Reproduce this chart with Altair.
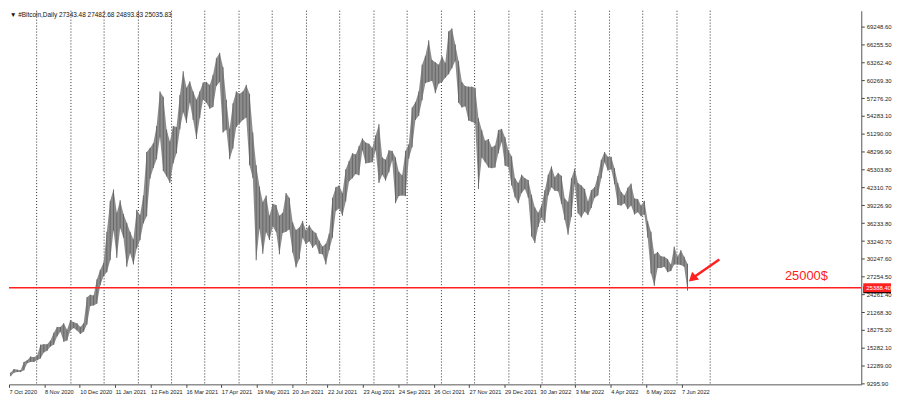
import altair as alt
import pandas as pd

# ---------------- data ----------------
# Bitcoin daily chart, price range (low / high, thousands USD) per 3-day window from 7 Oct 2020
WINDOW_START = "2020-10-07"
lows_k = [
    10.5, 11.1, 11.2, 11.2, 11.5, 12.7, 12.9, 12.9, 13.2, 13.5,
    14.5, 14.8, 15.5, 15.8, 17.2, 18.0, 16.3, 16.5, 18.2, 18.6,
    18.2, 17.6, 18.0, 19.2, 22.3, 22.4, 22.7, 25.8, 27.3, 28.0,
    30.0, 35.0, 30.4, 35.4, 33.8, 28.9, 31.2, 29.3, 32.0, 33.4,
    36.2, 37.4, 43.7, 45.5, 47.0, 50.7, 45.0, 44.1, 43.0, 46.3,
    48.0, 52.0, 54.9, 53.1, 56.5, 53.6, 50.4, 53.9, 57.0, 56.5,
    55.5, 55.8, 59.3, 60.0, 51.5, 52.0, 47.0, 48.8, 52.4, 53.0,
    53.6, 54.0, 46.0, 43.8, 30.0, 35.3, 31.1, 34.7, 33.4, 35.7,
    34.8, 31.0, 34.6, 34.8, 35.2, 31.3, 28.8, 30.2, 33.8, 32.7,
    33.2, 32.1, 32.7, 31.1, 31.0, 29.3, 31.7, 33.8, 38.3, 38.7,
    37.5, 39.9, 43.3, 43.8, 44.5, 44.3, 48.5, 46.3, 46.4, 46.5,
    48.5, 43.0, 44.4, 43.4, 44.8, 46.8, 39.6, 40.8, 40.9, 40.8,
    47.1, 49.0, 53.6, 54.3, 56.9, 59.8, 60.0, 60.2, 58.1, 59.7,
    60.0, 60.7, 61.3, 62.3, 63.5, 56.5, 55.7, 55.9, 53.5, 53.3,
    53.0, 42.0, 47.3, 46.5, 45.6, 45.5, 45.6, 48.0, 49.9, 45.9,
    45.7, 42.6, 40.6, 39.6, 41.3, 42.0, 40.5, 34.0, 32.9, 35.6,
    37.2, 36.3, 40.9, 42.3, 41.7, 41.6, 39.5, 36.8, 34.3, 37.3,
    42.8, 37.9, 37.2, 38.2, 37.6, 38.8, 40.5, 40.9, 43.8, 46.5,
    45.1, 45.3, 42.8, 39.3, 39.2, 39.6, 38.6, 39.2, 37.7, 38.1,
    37.4, 37.7, 33.8, 27.8, 25.7, 28.7, 28.7, 28.9, 28.0, 28.2,
    29.3, 29.3, 29.2, 28.9, 24.9,
]
highs_k = [
    11.1, 11.7, 11.6, 11.5, 12.9, 13.2, 13.8, 13.7, 14.0, 15.8,
    15.9, 15.9, 16.5, 17.8, 18.8, 18.8, 19.4, 18.3, 19.9, 19.6,
    19.4, 18.8, 19.4, 23.8, 24.2, 24.1, 26.8, 28.4, 29.6, 34.8,
    40.0, 41.9, 38.0, 40.1, 37.8, 36.3, 34.8, 33.5, 38.5, 37.6,
    40.9, 48.2, 48.9, 49.7, 52.6, 58.4, 57.5, 52.0, 50.0, 52.6,
    52.4, 57.8, 61.8, 59.0, 60.1, 58.4, 57.0, 58.4, 59.9, 60.0,
    59.5, 61.2, 64.0, 64.9, 62.5, 57.0, 52.1, 56.4, 58.4, 58.0,
    58.4, 59.5, 58.0, 51.5, 46.0, 42.4, 39.8, 40.9, 37.5, 39.5,
    39.3, 37.5, 38.0, 41.3, 40.5, 36.4, 35.1, 35.5, 36.6, 35.0,
    35.9, 35.0, 34.6, 33.3, 32.3, 32.8, 34.5, 40.5, 42.3, 42.6,
    41.3, 45.3, 46.7, 48.0, 47.8, 49.2, 50.5, 49.8, 49.6, 48.9,
    51.0, 52.9, 47.3, 46.9, 48.5, 48.4, 47.3, 44.9, 44.3, 48.4,
    49.5, 55.7, 56.6, 58.4, 62.9, 64.4, 67.0, 63.7, 63.3, 62.9,
    64.3, 63.2, 68.5, 69.0, 66.3, 63.5, 60.0, 59.3, 59.2, 59.2,
    59.0, 53.9, 51.9, 50.1, 50.4, 49.0, 49.3, 51.9, 52.1, 50.7,
    48.5, 47.5, 43.8, 43.0, 44.4, 43.8, 43.5, 41.0, 38.9, 38.0,
    39.2, 41.8, 44.4, 45.8, 44.0, 44.7, 44.2, 40.4, 39.8, 43.8,
    45.4, 43.0, 42.6, 42.0, 39.9, 41.8, 42.3, 44.2, 46.9, 48.2,
    47.4, 47.4, 45.5, 43.0, 41.5, 40.9, 42.2, 42.9, 40.4, 40.3,
    39.2, 40.0, 36.6, 34.8, 31.0, 31.4, 30.7, 30.6, 30.2, 29.3,
    32.3, 30.6, 31.7, 30.6, 29.4,
]

price_ticks = [69248.60, 66255.50, 63262.40, 60269.30, 57276.20, 54283.10, 51290.00,
               48296.90, 45303.80, 42310.70, 39226.90, 36233.80, 33240.70, 30247.60,
               27254.50, 24261.40, 21268.30, 18275.20, 15282.10, 12289.00, 9295.90]
label_dates = ["2020-10-07", "2020-11-08", "2020-12-10", "2021-01-11", "2021-02-12",
               "2021-03-16", "2021-04-17", "2021-05-19", "2021-06-20", "2021-07-22",
               "2021-08-23", "2021-09-24", "2021-10-26", "2021-11-27", "2021-12-29",
               "2022-01-30", "2022-03-03", "2022-04-04", "2022-05-06", "2022-06-07"]
grid_dates = ["2020-11-01", "2020-12-02", "2021-01-01", "2021-02-01", "2021-03-03",
              "2021-04-02", "2021-05-03", "2021-06-02", "2021-07-03", "2021-08-02",
              "2021-09-02", "2021-10-02", "2021-11-02", "2021-12-02", "2022-01-02",
              "2022-02-01", "2022-03-03", "2022-04-03", "2022-05-03", "2022-06-03",
              "2022-07-03"]
level_price = 25388.40
bid_price = 25035.83
header_text = "\u25bc #Bitcoin,Daily  27343.48 27482.68 24893.83 25035.83"
arrow_dates = ["2022-07-11T07:00", "2022-06-17T19:00"]
arrow_values = [30135, 27089]
note_text = "25000$"
note_date = "2022-09-28"
note_value = 27410
x_domain = ["2020-10-07T00:00", "2022-11-16T15:00"]
y_domain = [9136, 71974]

# ---------------- chart ----------------
W, H = 860, 377
RED = "#ff2020"
FONT = "Liberation Sans"


def dt(s):
    t = pd.Timestamp(s)
    return alt.DateTime(year=t.year, month=t.month, date=t.day, hours=t.hour, minutes=t.minute)


x_scale = alt.Scale(domain=[dt(x_domain[0]), dt(x_domain[1])], nice=False)
y_scale = alt.Scale(domain=y_domain, nice=False, zero=False)

x_axis = alt.Axis(values=[dt(d) for d in label_dates], format="%-d %b %Y", labelAlign="left",
                  labelFlush=False, labelOverlap=False, labelFontSize=5.7, labelFont=FONT,
                  labelColor="#1a1a1a", tickSize=3, tickColor="#444", domainColor="#555",
                  labelPadding=1, grid=False, title=None)
y_axis = alt.Axis(orient="right", values=price_ticks, format=".2f", labelFontSize=6, labelFont=FONT,
                  labelColor="#1a1a1a", tickSize=3, tickColor="#444", domainColor="#555",
                  labelPadding=2, grid=False, title=None, labelOverlap=False, labelFlush=False)


def X(field):
    return alt.X(field, scale=x_scale, axis=x_axis)


def Y(field):
    return alt.Y(field, scale=y_scale, axis=y_axis)


starts = pd.date_range(WINDOW_START, periods=len(lows_k), freq="3D")
bars_df = pd.DataFrame({
    "t": starts + pd.Timedelta(hours=36),
    "lo": [v * 1000 for v in lows_k],
    "hi": [v * 1000 for v in highs_k],
})

grid = alt.Chart(pd.DataFrame({"t": pd.to_datetime(grid_dates)})).mark_rule(
    color="#2a2a2a", strokeDash=[1, 2], strokeWidth=1
).encode(x=X("t:T"))

band = alt.Chart(bars_df).mark_area(color="#8c8c8c", opacity=1, interpolate="linear").encode(
    x=X("t:T"), y=Y("lo:Q"), y2="hi:Q")
sticks = alt.Chart(bars_df).mark_rule(color="#666666", strokeWidth=1).encode(
    x=X("t:T"), y=Y("lo:Q"), y2="hi:Q")

level = alt.Chart(pd.DataFrame({"v": [level_price]})).mark_rule(color=RED, strokeWidth=1.6).encode(
    y=Y("v:Q"))

arrow_df = pd.DataFrame({"t": pd.to_datetime(arrow_dates), "v": arrow_values})
arrow_line = alt.Chart(arrow_df).mark_line(color=RED, strokeWidth=2.5).encode(x=X("t:T"), y=Y("v:Q"))
arrow_head = alt.Chart(arrow_df.iloc[[1]]).mark_point(
    shape="triangle", filled=True, size=110, angle=228, color=RED, opacity=1
).encode(x=X("t:T"), y=Y("v:Q"))

note = alt.Chart(pd.DataFrame({"t": [pd.Timestamp(note_date)], "v": [note_value], "s": [note_text]})).mark_text(
    color=RED, fontSize=13, font=FONT, align="center", baseline="middle"
).encode(x=X("t:T"), y=Y("v:Q"), text="s:N")

bid_box = alt.Chart(pd.DataFrame({"v": [bid_price]})).mark_tick(
    orient="horizontal", color="#000", thickness=7, size=28, opacity=1
).encode(x=alt.value(W + 16), y=Y("v:Q"))
level_box = alt.Chart(pd.DataFrame({"v": [level_price]})).mark_tick(
    orient="horizontal", color=RED, thickness=9, size=28, opacity=1
).encode(x=alt.value(W + 16), y=Y("v:Q"))
level_label = alt.Chart(pd.DataFrame({"v": [level_price]})).mark_text(
    color="white", fontSize=6, font=FONT, align="left", baseline="middle"
).encode(x=alt.value(W + 5), y=Y("v:Q"), text=alt.Text("v:Q", format=".2f"))

header = alt.Chart(pd.DataFrame({"s": [header_text]})).mark_text(
    color="#111", fontSize=6.5, font=FONT, align="left", baseline="top"
).encode(x=alt.value(1), y=alt.value(1), text="s:N")

chart = alt.layer(
    grid, band, sticks, level, arrow_line, arrow_head, note, bid_box, level_box, level_label, header
).properties(width=W, height=H, padding=0, background="white").configure_view(stroke=None)

chart.save("out.html", embed_options={"renderer": "svg", "actions": False})
